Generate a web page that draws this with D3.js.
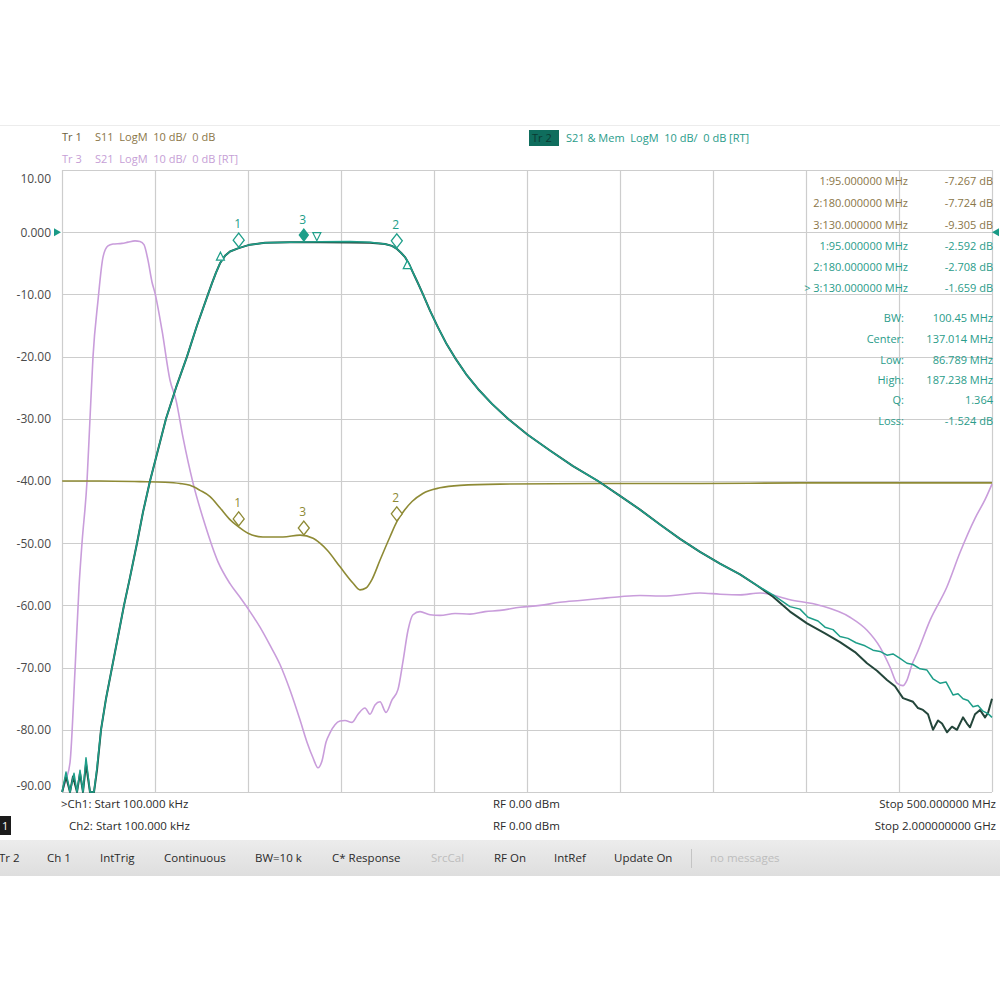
<!DOCTYPE html>
<html><head><meta charset="utf-8">
<script src="https://cdn.jsdelivr.net/npm/d3@7"></script>
<style>body{margin:0;background:#fff} svg{display:block} text{font-family:"Open Sans",sans-serif}</style>
</head><body><svg id="c" width="1000" height="1000"></svg>
<script>
// ---------- DATA ----------
const yTicks = [10,0,-10,-20,-30,-40,-50,-60,-70,-80,-90];
const yLabels = ["10.00","0.000","-10.00","-20.00","-30.00","-40.00","-50.00","-60.00","-70.00","-80.00","-90.00"];
const ch1Span = [0, 500];      // MHz (Ch1: 100 kHz .. 500 MHz)
const ch2Span = [0, 2000];     // MHz (Ch2: 100 kHz .. 2 GHz)

// Tr2 S21 (Ch1)
const s21Freq = [0.1,2.15,4.30,6.45,8.06,9.68,11.29,12.90,15.05,17.20,18.82,20.97,23.66,26.88,30.11,33.33,36.56,40.32,43.55,47.31,51.61,55.91,61.29,67.20,72.58,
  78.49,80.65,82.80,84.95,87.63,90.32,94.62,101.08,109.14,122.58,138.71,154.84,165.59,173.66,177.42,180.11,182.26,184.41,186.56,188.71,191.40,194.09,197.85,202.15,206.45,211.29,217.20,223.66,231.18,239.78,250.54,262.37,274.73,288.17,300.0,310.75,321.51,332.26,343.01,353.76,364.52,373.66,
  382.26,391.40,396.77,401.08,406.45,410.22,414.52,418.28,422.58,426.88,431.72,436.02,439.78,443.55,446.77,450.54,454.30,457.53,461.29,465.05,468.28,472.04,475.27,479.03,481.72,484.41,487.10,489.78,492.47,495.16,497.85,500];
const s21Db = [-90,-86.8,-90,-87,-90,-86.5,-90,-84.5,-90,-90,-86,-80,-75,-70,-65,-60,-55.5,-50,-45,-40,-35,-30,-25,-20,-15,
  -10,-8.2,-6.5,-5,-3.8,-3.1,-2.6,-2.0,-1.7,-1.6,-1.55,-1.5,-1.6,-1.9,-2.2,-2.7,-3.3,-4,-5.1,-6.5,-8.2,-10,-12.6,-15.3,-17.8,-20.2,-22.8,-25.2,-27.6,-30,-32.6,-35.1,-37.6,-40,-42.4,-44.6,-47,-49.3,-51.4,-53.3,-55,-56.8,
  -58.3,-60.2,-60.6,-61.9,-62.5,-63.5,-63.9,-65,-65.3,-66,-66.5,-67.2,-67.4,-68,-67.8,-68.5,-69.3,-69.5,-70.2,-70.4,-71.8,-72.5,-72.3,-74.4,-74.2,-75,-75.3,-76.3,-76.1,-77,-77.4,-78];

// Tr2 Memory trace (Ch1)
const memFreq = [0.1,2.15,4.30,5.91,8.06,9.68,11.29,12.90,15.05,17.20,18.82,20.97,23.66,26.88,30.11,33.33,36.56,40.32,43.55,47.31,51.61,55.91,61.29,67.20,72.58,
  78.49,80.65,82.80,84.95,87.63,90.32,94.62,101.08,109.14,122.58,138.71,154.84,165.59,173.66,177.42,180.11,182.26,184.41,186.56,188.71,191.40,194.09,197.85,202.15,206.45,211.29,217.20,223.66,231.18,239.78,250.54,262.37,274.73,288.17,300.0,310.75,321.51,332.26,343.01,353.76,364.52,373.66,
  382.26,391.40,400.54,410.22,418.28,426.34,432.80,438.17,443.55,447.85,452.15,457.53,460.22,462.90,465.59,468.28,470.97,473.12,475.81,478.49,481.18,484.41,486.56,488.17,490.86,493.55,496.24,497.85,500];
const memDb = [-90,-87.5,-90,-87.5,-90,-87,-90,-85.5,-90,-90,-86.5,-80,-75,-70,-65,-60,-55.5,-50,-45,-40,-35,-30,-25,-20,-15,
  -10,-8.2,-6.5,-5,-3.8,-3.1,-2.6,-2.0,-1.7,-1.6,-1.6,-1.65,-1.7,-1.9,-2.2,-2.7,-3.3,-4,-5.1,-6.5,-8.2,-10,-12.6,-15.3,-17.8,-20.2,-22.8,-25.2,-27.6,-30,-32.6,-35.1,-37.6,-40,-42.4,-44.6,-47,-49.3,-51.4,-53.3,-55,-56.8,
  -58.6,-61,-62.9,-64.5,-65.9,-67.5,-69.3,-70.5,-72,-73,-74.9,-75.5,-76.5,-76.8,-77.5,-80,-78.5,-79,-80.4,-79.5,-80,-78,-79,-79.6,-77.5,-76.8,-78,-77.3,-75];

// Tr1 S11 (Ch1), as displayed
const s11Freq = [0.1,20.4,41.9,55.4,63.4,68.8,74.2,79.6,84.9,90.3,94.6,100,108,118.8,128,135,138.7,142.5,149.5,156.4,160.2,163.4,166.7,171,176.3,180.1,184.4,188.2,194,203.2,214,235.5,289.2,343,396.7,450.5,500];
const s11Db = [-40,-40,-40.1,-40.2,-40.4,-40.7,-41.5,-42.5,-44.3,-46.2,-47.3,-48.4,-49,-49,-48.7,-49.2,-50,-51.1,-53.8,-56.4,-57.5,-57.2,-55.8,-52.7,-49,-46.5,-44.6,-43.3,-42,-41.1,-40.7,-40.5,-40.4,-40.4,-40.3,-40.3,-40.3];

// Tr3 S21 (Ch2, 0.1 .. 2000 MHz)
const tr3Freq = [0.1,8.6,17.2,28.0,36.6,43.0,53.8,60.2,66.7,77.4,88.2,98.9,109.7,129.0,141.9,157.0,167.7,176.3,184.9,193.5,200.0,215.1,232.3,245.2,260.2,281.7,307.5,335.5,361.3,382.8,404.3,425.8,447.3,468.8,490.3,511.8,526.9,539.8,550.5,559.1,567.7,576.3,587.1,597.8,608.6,623.7,636.6,651.6,662.4,673.1,683.9,696.8,709.7,722.6,733.3,744.1,754.8,769.9,791.4,812.9,845.2,877.4,909.7,941.9,985.0,1027.9,1071.0,1114.0,1157.0,1200.0,1243.0,1286.0,1329.0,1372.0,1415.1,1458.1,1501.1,1565.6,1630.1,1694.6,1731.2,1759.1,1780.6,1795.7,1808.6,1817.2,1828.0,1838.7,1866.7,1903.2,1931.2,1963.5,1985.0,2000];
const tr3Db = [-90,-88,-85.3,-70.4,-57,-50,-40,-30,-20,-11,-4,-2.2,-1.9,-1.8,-1.6,-1.4,-1.5,-2.0,-4.5,-8,-9.8,-15.8,-23.8,-27,-33,-40.3,-47,-53,-56.5,-58.7,-61,-63.5,-66.4,-69.5,-73.6,-78.4,-82,-84.5,-86.1,-85,-82,-80.5,-79.2,-78.6,-78.5,-78.8,-77.5,-76.5,-77.5,-76,-75.5,-77.2,-75.2,-73.5,-69,-64,-61.5,-61,-61.5,-61.6,-61.3,-61.4,-61,-60.8,-60.3,-60,-59.5,-59.2,-58.9,-58.6,-58.4,-58.5,-58.3,-58.0,-58.2,-58.3,-58.0,-59.1,-60,-61.9,-64,-66.7,-69.9,-72.5,-72.9,-72,-69.5,-67.7,-62.4,-57,-51.5,-46,-43,-40.5];

// Markers
const markerFreq = [95, 180, 130];
const markerName = ["1", "2", "3"];
const bwLow = 86.789, bwHigh = 187.238, bwCenter = 137.014, bwLoss = -1.524;

// Texts
const headerTr1 = ["Tr 1", "S11  LogM  10 dB/  0 dB"];
const headerTr3 = ["Tr 3", "S21  LogM  10 dB/  0 dB [RT]"];
const headerTr2 = ["Tr 2", "S21 & Mem  LogM  10 dB/  0 dB [RT]"];
const tr1Rows = [["1:95.000000 MHz","-7.267 dB"],["2:180.000000 MHz","-7.724 dB"],["3:130.000000 MHz","-9.305 dB"]];
const tr2Rows = [["1:95.000000 MHz","-2.592 dB"],["2:180.000000 MHz","-2.708 dB"],["> 3:130.000000 MHz","-1.659 dB"]];
const bwLabels = ["BW:","Center:","Low:","High:","Q:","Loss:"];
const bwValues = ["100.45 MHz","137.014 MHz","86.789 MHz","187.238 MHz","1.364","-1.524 dB"];
const footLeft = [">Ch1: Start 100.000 kHz", "Ch2: Start 100.000 kHz"];
const footMid = ["RF 0.00 dBm", "RF 0.00 dBm"];
const footRight = ["Stop 500.000000 MHz", "Stop 2.000000000 GHz"];
const statusItems = ["Tr 2","Ch 1","IntTrig","Continuous","BW=10 k","C* Response","SrcCal","RF On","IntRef","Update On","no messages"];
const statusDim = ["SrcCal","no messages"];

// ---------- STYLE / LAYOUT ----------
const C = {grid:"#cdcdcd", s21:"#1e9e89", mem:"#24463b", s11:"#8e8a35", tr3:"#c99ddb",
  tr1Text:"#8a7648", tr3Text:"#c6a0d6", tr2Text:"#2a9c8a", axis:"#4a4a4a"};
const L = {left:62, right:992, top:170, bottom:792};

const svg = d3.select("#c");
svg.append("rect").attr("width",1000).attr("height",1000).attr("fill","#fff");

const x1 = d3.scaleLinear().domain(ch1Span).range([L.left, L.right]);
const x2 = d3.scaleLinear().domain(ch2Span).range([L.left, L.right]);
const y = d3.scaleLinear().domain([-90, 10]).range([L.bottom, L.top]);

svg.append("line").attr("x1",0).attr("x2",1000).attr("y1",125.5).attr("y2",125.5).attr("stroke","#ececec");

// grid
const g = svg.append("g");
g.selectAll("line.v").data(x1.ticks(10)).join("line")
  .attr("x1",d=>Math.round(x1(d))+0.5).attr("x2",d=>Math.round(x1(d))+0.5)
  .attr("y1",L.top).attr("y2",L.bottom).attr("stroke",C.grid).attr("stroke-width",1.2);
g.selectAll("line.h").data(yTicks).join("line")
  .attr("x1",L.left).attr("x2",L.right)
  .attr("y1",d=>Math.round(y(d))+0.5).attr("y2",d=>Math.round(y(d))+0.5)
  .attr("stroke",C.grid).attr("stroke-width",1.2);

// y axis labels
const ax = svg.append("g").attr("transform",`translate(${L.left - 8},0)`)
  .call(d3.axisLeft(y).tickValues(yTicks).tickSize(0).tickFormat((d,i)=>yLabels[i]));
ax.select(".domain").remove();
ax.selectAll("text").attr("fill",C.axis).attr("font-size",12).attr("font-family","Open Sans")
  .attr("dy",(d,i)=> i===0 ? "1.0em" : (i===yTicks.length-1 ? "-0.2em" : "0.32em"));

// traces
const line = (xs, fArr, dArr, curve) => d3.line().curve(curve || d3.curveLinear)
  .x(i=>xs(fArr[i])).y(i=>y(dArr[i]))(d3.range(fArr.length));
svg.append("path").attr("d",line(x2,tr3Freq,tr3Db,d3.curveMonotoneX)).attr("fill","none").attr("stroke",C.tr3).attr("stroke-width",1.6).attr("stroke-linejoin","round");
svg.append("path").attr("d",line(x1,s11Freq,s11Db,d3.curveMonotoneX)).attr("fill","none").attr("stroke",C.s11).attr("stroke-width",1.6).attr("stroke-linejoin","round");
svg.append("path").attr("d",line(x1,memFreq,memDb)).attr("fill","none").attr("stroke",C.mem).attr("stroke-width",2).attr("stroke-linejoin","round");
svg.append("path").attr("d",line(x1,s21Freq,s21Db)).attr("fill","none").attr("stroke",C.s21).attr("stroke-width",1.5).attr("stroke-linejoin","round");

function valAt(fArr, dArr, f){
  const i = Math.max(1, Math.min(fArr.length-1, d3.bisectLeft(fArr, f)));
  const t = (f - fArr[i-1])/(fArr[i]-fArr[i-1]);
  return dArr[i-1] + t*(dArr[i]-dArr[i-1]);
}
function diamond(px, py, color, filled, w, h){
  svg.append("path").attr("d",`M${px},${py} L${px+w/2},${py-h/2} L${px},${py-h} L${px-w/2},${py-h/2} Z`)
    .attr("fill",filled?color:"#fff").attr("fill-opacity",filled?1:0.9).attr("stroke",color).attr("stroke-width",1.3);
}
function markers(fArr, dArr, color, filledIdx){
  markerFreq.forEach((f,i)=>{
    const px = x1(f), py = y(valAt(fArr,dArr,f)) - 1;
    const filled = i===filledIdx;
    const w = filled?9:11, h = filled?12:14;
    diamond(px, py, color, filled, w, h);
    svg.append("text").attr("x",px-1).attr("y",py-h-5).attr("text-anchor","middle")
      .attr("font-size",12).attr("fill",color).text(markerName[i]);
  });
}
markers(s11Freq, s11Db, C.s11, -1);
markers(s21Freq, s21Db, C.s21, 2);

function tri(px, py, up){
  const s = 8;
  const d = up ? `M${px-s/2},${py} L${px+s/2},${py} L${px},${py-s} Z`
               : `M${px-s/2},${py-s} L${px+s/2},${py-s} L${px},${py} Z`;
  svg.append("path").attr("d",d).attr("fill","#fff").attr("stroke",C.s21).attr("stroke-width",1.2);
}
tri(x1(bwLow)-3, y(valAt(s21Freq,s21Db,bwLow))+2, true);
tri(x1(bwHigh)-3, y(valAt(s21Freq,s21Db,bwHigh))+2, true);
tri(x1(bwCenter), y(bwLoss)-1, false);

svg.append("path").attr("d",`M${L.left-8},${y(0)-4} L${L.left-1},${y(0)} L${L.left-8},${y(0)+4} Z`).attr("fill","#1a9a86");
svg.append("path").attr("d",`M${L.right+7},${y(0)-4} L${L.right},${y(0)} L${L.right+7},${y(0)+4} Z`).attr("fill","#1a9a86");

// header
const hdr = svg.append("g").attr("font-size",11);
hdr.append("text").attr("x",62).attr("y",141).attr("fill","#6d6040").text(headerTr1[0]);
hdr.append("text").attr("x",95).attr("y",141).attr("fill",C.tr1Text).text(headerTr1[1]).attr("xml:space","preserve");
hdr.append("text").attr("x",62).attr("y",163).attr("fill",C.tr3Text).text(headerTr3[0]);
hdr.append("text").attr("x",95).attr("y",163).attr("fill",C.tr3Text).text(headerTr3[1]).attr("xml:space","preserve");
hdr.append("rect").attr("x",529).attr("y",130).attr("width",30).attr("height",16).attr("fill","#0f6d5d");
hdr.append("text").attr("x",532).attr("y",142).attr("fill","#0b3a31").text(headerTr2[0]);
hdr.append("text").attr("x",566).attr("y",142).attr("fill",C.tr2Text).text(headerTr2[1]).attr("xml:space","preserve");

// marker table
const tb = svg.append("g").attr("font-size",11);
const rowY = [185,207,229,250,271,292];
tr1Rows.concat(tr2Rows).forEach((r,i)=>{
  const col = i<3 ? C.tr1Text : C.tr2Text;
  tb.append("text").attr("x",908).attr("y",rowY[i]).attr("text-anchor","end").attr("fill",col).text(r[0]);
  tb.append("text").attr("x",993).attr("y",rowY[i]).attr("text-anchor","end").attr("fill",col).text(r[1]);
});
const bwY = [322,343,364,384,404,425];
bwLabels.forEach((lab,i)=>{
  tb.append("text").attr("x",904).attr("y",bwY[i]).attr("text-anchor","end").attr("fill",C.tr2Text).text(lab);
  tb.append("text").attr("x",993).attr("y",bwY[i]).attr("text-anchor","end").attr("fill",C.tr2Text).text(bwValues[i]);
});

// footer
const ft = svg.append("g").attr("font-size",11.5).attr("fill","#2a2a2a");
const fy = [808, 830];
ft.append("text").attr("x",61).attr("y",fy[0]).text(footLeft[0]);
ft.append("text").attr("x",69).attr("y",fy[1]).text(footLeft[1]);
footMid.forEach((t,i)=>ft.append("text").attr("x",493).attr("y",fy[i]).text(t));
footRight.forEach((t,i)=>ft.append("text").attr("x",996).attr("y",fy[i]).attr("text-anchor","end").text(t));
svg.append("rect").attr("x",0).attr("y",816).attr("width",11).attr("height",19).attr("fill","#1b1b1b");
svg.append("text").attr("x",2).attr("y",830).attr("font-size",11).attr("fill","#fff").text("1");

// status bar
const sbGrad = svg.append("defs").append("linearGradient").attr("id","sb").attr("x1",0).attr("x2",0).attr("y1",0).attr("y2",1);
sbGrad.append("stop").attr("offset","0").attr("stop-color","#ececec");
sbGrad.append("stop").attr("offset","1").attr("stop-color","#dedede");
svg.append("rect").attr("x",0).attr("y",840).attr("width",1000).attr("height",36).attr("fill","url(#sb)");
const sx = [-1,47,100,164,255,332,431,494,554,614,710];
statusItems.forEach((t,i)=>{
  svg.append("text").attr("x",sx[i]).attr("y",862).attr("font-size",11.5)
    .attr("fill", statusDim.includes(t) ? "#bdbdbd" : "#2a2a2a").text(t);
});
svg.append("line").attr("x1",691.5).attr("x2",691.5).attr("y1",849).attr("y2",868).attr("stroke","#c4c4c4");
</script></body></html>
